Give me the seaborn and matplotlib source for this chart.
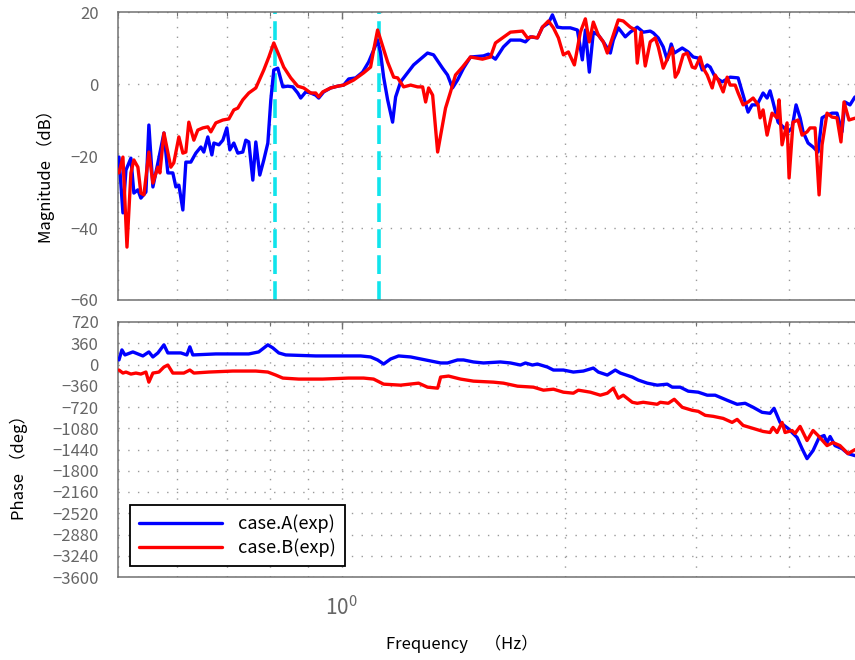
import matplotlib
matplotlib.use("Agg")
import matplotlib.pyplot as plt
import pandas as pd
import seaborn as sns
from matplotlib.ticker import LogLocator, NullFormatter, FixedLocator

# ---------------- data ----------------
series_names = ["case.A(exp)", "case.B(exp)"]
series_colors = ["#0000ff", "#ff0000"]
resonance_hz = [0.813, 1.121]
mag_ticks = [-60, -40, -20, 0, 20]
phase_ticks = [720, 360, 0, -360, -720, -1080, -1440, -1800, -2160,
               -2520, -2880, -3240, -3600]

freq_mag_a = [0.5015, 0.5077, 0.5125, 0.5204, 0.5252, 0.5318, 0.5367, 0.5452, 0.5502, 0.5571,
              0.5658, 0.5765, 0.5835, 0.5926, 0.5982, 0.6038, 0.6113, 0.6170, 0.6266, 0.6364,
              0.6463, 0.6523, 0.6605, 0.6688, 0.6730, 0.6835, 0.6920, 0.7006, 0.7071, 0.7159,
              0.7248, 0.7361, 0.7430, 0.7499, 0.7593, 0.7664, 0.7759, 0.7856, 0.7955, 0.8029,
              0.8103, 0.8204, 0.8333, 0.8462, 0.8595, 0.8727, 0.8808, 0.8946, 0.9086, 0.9227,
              0.9313, 0.9458, 0.9665, 0.9877, 1.0062, 1.0219, 1.0443, 1.0671, 1.0872, 1.1041,
              1.1178, 1.1282, 1.1389, 1.1531, 1.1710, 1.1820, 1.2004, 1.2497, 1.3048, 1.3294,
              1.3670, 1.3883, 1.4099, 1.4319, 1.4588, 1.4907, 1.5518, 1.5760, 1.6106, 1.6509,
              1.6874, 1.7403, 1.7674, 1.7949, 1.8343, 1.8631, 1.8979, 1.9215, 1.9514, 1.9817,
              2.0315, 2.0760, 2.1083, 2.1281, 2.1544, 2.1813, 2.2153, 2.2500, 2.2993, 2.3206,
              2.3568, 2.4083, 2.4458, 2.4993, 2.5463, 2.6020, 2.6266, 2.6675, 2.7090, 2.7429,
              2.7769, 2.8029, 2.8731, 2.9272, 2.9728, 3.0191, 3.0568, 3.1046, 3.1333, 3.1821,
              3.2517, 3.3329, 3.4166, 3.4698, 3.5237, 3.5677, 3.6232, 3.6914, 3.7375, 3.7721,
              3.8071, 3.8667, 3.9271, 3.9883, 4.0380, 4.0887, 4.1400, 4.1785, 4.2437, 4.3097,
              4.3768, 4.4317, 4.5006, 4.5707, 4.6416, 4.7138, 4.7580, 4.8321, 4.9072]
mag_a = [-20.3, -35.8, -23.9, -20.6, -30.3, -29.4, -31.7, -30.0, -11.4, -28.6,
         -21.9, -13.6, -24.7, -24.7, -28.6, -28.1, -35.0, -21.7, -21.7, -19.2,
         -17.5, -18.9, -14.7, -19.7, -16.4, -16.9, -15.6, -12.2, -18.3, -16.4,
         -19.2, -18.9, -15.6, -16.1, -26.7, -16.1, -25.3, -21.1, -16.4, -4.4,
         3.9, 4.4, -0.8, -0.6, -0.8, -2.5, -3.9, -2.2, -2.5, -3.1,
         -3.9, -2.2, -1.1, -0.6, -0.3, 1.4, 1.7, 3.3, 6.1, 9.4,
         12.2, 8.6, 1.9, -4.4, -10.6, -3.6, 0.6, 5.3, 8.6, 8.1,
         4.4, 2.5, -1.1, 1.1, 4.4, 7.5, 7.8, 8.3, 6.9, 10.3,
         12.2, 12.2, 11.7, 13.1, 12.8, 15.8, 16.9, 19.2, 15.8, 15.6,
         15.6, 15.0, 6.7, 15.0, 3.3, 14.4, 13.6, 11.7, 8.6, 12.2,
         15.6, 13.1, 14.4, 15.8, 14.4, 14.7, 14.2, 12.8, 10.3, 6.7,
         11.1, 8.6, 10.0, 8.9, 7.5, 7.2, 3.9, 5.3, 4.7, 1.9,
         0.6, 1.9, 1.7, -3.1, -7.8, -5.8, -5.8, -2.5, -3.9, -1.9,
         -5.0, -10.6, -11.9, -13.3, -12.2, -5.8, -9.4, -13.3, -16.4, -17.5,
         -18.9, -9.4, -8.6, -8.1, -8.1, -13.3, -5.0, -5.8, -3.6]

freq_mag_b = [0.5015, 0.5077, 0.5141, 0.5204, 0.5252, 0.5318, 0.5367, 0.5418, 0.5502, 0.5571,
              0.5658, 0.5693, 0.5765, 0.5889, 0.5944, 0.6038, 0.6113, 0.6170, 0.6227, 0.6325,
              0.6403, 0.6503, 0.6605, 0.6667, 0.6771, 0.6920, 0.7050, 0.7159, 0.7248, 0.7361,
              0.7499, 0.7664, 0.7856, 0.7980, 0.8103, 0.8229, 0.8356, 0.8540, 0.8727, 0.8891,
              0.9086, 0.9227, 0.9313, 0.9429, 0.9665, 0.9877, 1.0062, 1.0378, 1.0705, 1.0938,
              1.1041, 1.1178, 1.1531, 1.1748, 1.1894, 1.2117, 1.2383, 1.2655, 1.2852, 1.2972,
              1.3093, 1.3257, 1.3464, 1.3670, 1.3797, 1.4012, 1.4230, 1.4541, 1.4907, 1.5470,
              1.5860, 1.6106, 1.6458, 1.6874, 1.7511, 1.7783, 1.8059, 1.8343, 1.8631, 1.8979,
              1.9275, 1.9576, 1.9880, 2.0190, 2.0569, 2.0955, 2.1281, 2.1544, 2.1813, 2.2153,
              2.2500, 2.2780, 2.3206, 2.3568, 2.3933, 2.4458, 2.4844, 2.4993, 2.5305, 2.5621,
              2.6020, 2.6424, 2.6675, 2.7090, 2.7514, 2.7859, 2.8117, 2.8379, 2.8820, 2.9180,
              2.9635, 2.9910, 3.0376, 3.0660, 3.1046, 3.1528, 3.1821, 3.2118, 3.2618, 3.3025,
              3.3329, 3.3853, 3.4166, 3.4698, 3.5237, 3.5793, 3.6350, 3.6575, 3.6914, 3.7375,
              3.7954, 3.8548, 3.8787, 3.9148, 3.9763, 4.0011, 4.0505, 4.1134, 4.1653, 4.2299,
              4.2698, 4.3368, 4.3909, 4.4317, 4.5006, 4.5707, 4.6416, 4.6989, 4.7434, 4.8174,
              4.9072]
mag_b = [-24.7, -20.3, -45.3, -24.7, -21.1, -23.1, -30.3, -30.8, -18.9, -27.5,
         -23.1, -24.7, -13.6, -23.1, -21.9, -14.7, -19.2, -18.9, -10.6, -15.6,
         -12.8, -12.2, -11.9, -13.3, -10.8, -10.0, -9.7, -7.2, -6.7, -4.4,
         -2.5, -1.1, 3.9, 7.5, 11.4, 8.1, 4.7, 1.7, -0.6, -1.1,
         -2.5, -2.5, -3.6, -2.2, -1.1, -0.6, -0.3, 1.1, 3.1, 4.7,
         9.4, 15.0, 6.1, 1.9, 1.7, -0.8, -0.3, -0.8, -0.8, -5.0,
         -1.1, -3.1, -18.9, -11.4, -6.7, -2.2, 2.5, 4.7, 7.5, 6.9,
         7.5, 11.4, 12.8, 14.4, 14.7, 12.8, 13.1, 12.8, 15.8, 17.5,
         15.6, 12.8, 8.1, 8.9, 5.3, 14.4, 18.1, 11.7, 17.2, 13.6,
         11.7, 8.6, 13.6, 17.8, 17.5, 15.8, 15.0, 5.8, 14.4, 5.0,
         11.7, 12.8, 10.3, 4.4, 7.5, 10.0, 1.9, 3.3, 8.1, 8.6,
         4.7, 4.4, 7.5, 4.4, 2.5, -1.1, 2.5, 1.1, -2.2, 1.9,
         -0.3, -0.3, -2.5, -5.8, -5.0, -3.9, -5.8, -9.4, -7.2, -14.2,
         -8.1, -9.4, -4.4, -16.9, -10.8, -26.1, -10.6, -10.0, -14.2, -13.3,
         -12.2, -12.2, -30.8, -16.9, -8.1, -9.2, -9.4, -16.1, -5.0, -10.0,
         -9.5]

freq_phase_a = [0.5015, 0.5061, 0.5109, 0.5236, 0.5318, 0.5401, 0.5502, 0.5571, 0.5658, 0.5765,
                0.5835, 0.6075, 0.6189, 0.6247, 0.6305, 0.6771, 0.7499, 0.7734, 0.7955, 0.8078,
                0.8229, 0.8408, 0.9227, 1.0219, 1.0605, 1.0938, 1.1178, 1.1389, 1.1640, 1.1930,
                1.2383, 1.2771, 1.3172, 1.3589, 1.3883, 1.4319, 1.4588, 1.5045, 1.5518, 1.6357,
                1.6874, 1.7403, 1.7674, 1.8059, 1.8343, 1.8920, 1.9275, 1.9880, 2.0503, 2.1149,
                2.1813, 2.2153, 2.2780, 2.3349, 2.3714, 2.4611, 2.5073, 2.5781, 2.6590, 2.7429,
                2.7859, 2.8551, 2.9272, 3.0191, 3.1046, 3.1821, 3.3025, 3.4060, 3.4914, 3.5793,
                3.6801, 3.7721, 3.8189, 3.8907, 3.9883, 4.1020, 4.1653, 4.2299, 4.3097, 4.3909,
                4.4592, 4.5006, 4.5432, 4.6132, 4.7138, 4.8032, 4.9072]
phase_a = [77, 247, 162, 213, 179, 145, 213, 128, 196, 333,
           196, 196, 162, 299, 162, 179, 179, 213, 333, 282,
           196, 162, 145, 145, 145, 128, 77, 8, 94, 145,
           128, 94, 60, 26, 26, 77, 77, 43, 26, 43,
           26, -9, 26, -9, 8, -43, -94, -94, -128, -111,
           -60, -128, -179, -94, -145, -213, -264, -316, -350, -333,
           -384, -384, -452, -469, -520, -520, -606, -674, -657, -725,
           -810, -827, -742, -981, -1083, -1237, -1425, -1595, -1458, -1237,
           -1203, -1322, -1220, -1374, -1425, -1510, -1544]

freq_phase_b = [0.5015, 0.5077, 0.5125, 0.5204, 0.5285, 0.5367, 0.5452, 0.5502, 0.5571, 0.5676,
                0.5765, 0.5835, 0.5926, 0.6132, 0.6247, 0.6325, 0.6626, 0.7137, 0.7664, 0.7955,
                0.8152, 0.8333, 0.8753, 0.9429, 1.0219, 1.0705, 1.1041, 1.1389, 1.2004, 1.2692,
                1.3048, 1.3464, 1.3589, 1.3926, 1.4454, 1.5045, 1.6007, 1.6509, 1.7242, 1.8117,
                1.8689, 1.9275, 1.9880, 2.0503, 2.0822, 2.1612, 2.2292, 2.2780, 2.3206, 2.3568,
                2.3933, 2.4611, 2.4993, 2.5463, 2.6020, 2.6590, 2.6840, 2.7514, 2.8029, 2.8731,
                2.9635, 3.0191, 3.0852, 3.1623, 3.2618, 3.3535, 3.4060, 3.4698, 3.5793, 3.6914,
                3.7721, 3.8071, 3.8548, 3.9148, 3.9517, 4.0380, 4.0755, 4.1400, 4.2299, 4.3097,
                4.3768, 4.5006, 4.5847, 4.6845, 4.8032, 4.9072]
phase_b = [-94, -145, -128, -162, -145, -162, -128, -299, -145, -128,
           -43, -9, -145, -145, -94, -145, -128, -111, -111, -128,
           -179, -230, -247, -247, -230, -230, -247, -333, -350, -316,
           -384, -401, -213, -196, -247, -282, -299, -316, -367, -384,
           -435, -418, -469, -486, -435, -469, -520, -486, -401, -571,
           -520, -640, -657, -640, -657, -674, -640, -657, -589, -725,
           -776, -793, -861, -878, -913, -981, -930, -1032, -1083, -1134,
           -1152, -1066, -1152, -981, -1152, -1118, -1169, -1049, -1288, -1118,
           -1203, -1374, -1322, -1374, -1510, -1442]

# ---------------- tables for seaborn ----------------
df_mag = pd.concat([
    pd.DataFrame({"freq": freq_mag_a, "value": mag_a, "case": series_names[0]}),
    pd.DataFrame({"freq": freq_mag_b, "value": mag_b, "case": series_names[1]}),
], ignore_index=True)
df_phase = pd.concat([
    pd.DataFrame({"freq": freq_phase_a, "value": phase_a, "case": series_names[0]}),
    pd.DataFrame({"freq": freq_phase_b, "value": phase_b, "case": series_names[1]}),
], ignore_index=True)
palette = dict(zip(series_names, series_colors))

# ---------------- style ----------------
sns.set_theme(style="white")
plt.rcParams["font.family"] = ["Noto Sans CJK JP", "DejaVu Sans"]
plt.rcParams["axes.unicode_minus"] = True

W, H = 855, 660
fig = plt.figure(figsize=(W / 100, H / 100), dpi=100)
fig.patch.set_facecolor("white")
ax1 = fig.add_axes([118 / W, 1 - 300 / H, 743 / W, 288 / H])
ax2 = fig.add_axes([118 / W, 1 - 577 / H, 743 / W, 255 / H])

sns.lineplot(data=df_mag, x="freq", y="value", hue="case", hue_order=series_names,
             palette=palette, estimator=None, sort=False, linewidth=2.4,
             ax=ax1, legend=False, zorder=3)
sns.lineplot(data=df_phase, x="freq", y="value", hue="case", hue_order=series_names,
             palette=palette, estimator=None, sort=False, linewidth=2.4,
             ax=ax2, legend=True, zorder=3)

for f in resonance_hz:
    ax1.axvline(f, color="#10e4ec", linewidth=2.6, dashes=(5.2, 2.0), zorder=2)

spine_col = "#707070"
tick_col = "#666666"
grid_kw = dict(color="#9a9a9a", linestyle=(0, (1, 6)), linewidth=1.0)

for ax in (ax1, ax2):
    ax.set_xscale("log")
    ax.set_xlim(0.5, 5.0)
    ax.xaxis.set_major_locator(LogLocator(base=10))
    ax.xaxis.set_minor_locator(LogLocator(base=10, subs=[2, 3, 4, 5, 6, 7, 8, 9]))
    ax.xaxis.set_minor_formatter(NullFormatter())
    ax.grid(True, which="major", axis="both", **grid_kw)
    ax.grid(True, which="minor", axis="x", **grid_kw)
    ax.set_axisbelow(True)
    for s in ax.spines.values():
        s.set_color(spine_col)
        s.set_linewidth(1.1)
    ax.tick_params(which="both", direction="in", top=True, right=True,
                   color=spine_col, labelcolor=tick_col, labelsize=12)
    ax.tick_params(which="major", length=5, width=1)
    ax.tick_params(which="minor", length=3, width=0.8)
    ax.tick_params(axis="y", pad=14)
    ax.set_xlabel("")
    ax.set_ylabel("")

ax1.set_ylim(-60, 20)
ax1.yaxis.set_major_locator(FixedLocator(mag_ticks))
ax1.tick_params(axis="x", which="both", labelbottom=False)

ax2.set_ylim(-3600, 720)
ax2.yaxis.set_major_locator(FixedLocator(phase_ticks))
ax2.tick_params(axis="x", which="major", pad=14, labelsize=15)

ax1.set_ylabel("Magnitude （dB）", fontsize=12, color="black")
ax1.yaxis.set_label_coords(-0.085, 0.444)
ax2.set_ylabel("Phase （deg）", fontsize=12, color="black")
ax2.yaxis.set_label_coords(-0.121, 0.447)
ax2.set_xlabel("Frequency　（Hz）", fontsize=12, color="black")
ax2.xaxis.set_label_coords(0.463, -0.227)

handles, labels = ax2.get_legend_handles_labels()
leg = ax2.legend(handles, labels, loc="lower left", bbox_to_anchor=(0.016, 0.043),
                 borderaxespad=0, frameon=True, fancybox=False, edgecolor="black",
                 framealpha=1, fontsize=13, handlelength=4.6, borderpad=0.5,
                 labelspacing=0.3, handletextpad=0.9)
leg.get_frame().set_linewidth(1.3)
for t in leg.get_texts():
    t.set_color("black")

fig.savefig("out.png", dpi=100, facecolor="white")
